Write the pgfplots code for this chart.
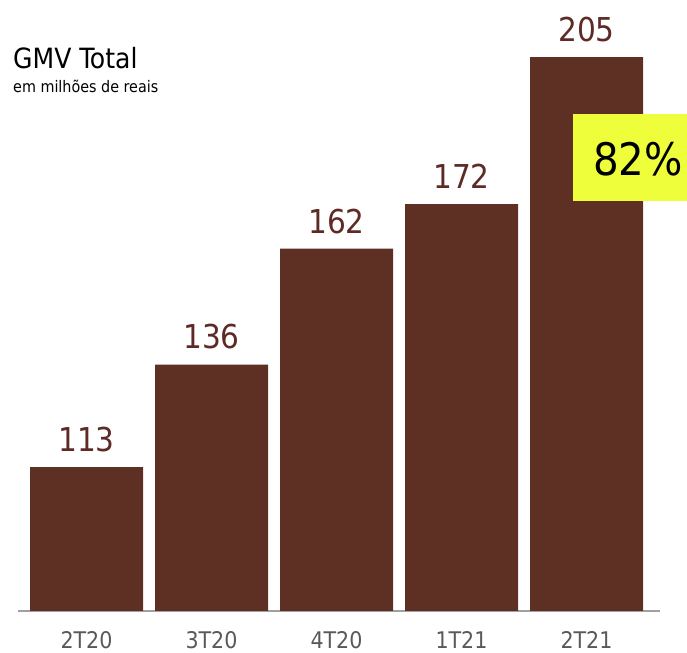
\documentclass[border=0pt]{standalone}
\usepackage{fontspec}
\setmainfont{DejaVu Sans Condensed}
\usepackage{pgfplots}
\pgfplotsset{compat=1.18}

\definecolor{barbrown}{RGB}{94,48,36}
\definecolor{lblbrown}{RGB}{94,42,38}
\definecolor{ticktxt}{RGB}{89,89,89}
\definecolor{axisgray}{RGB}{160,160,160}
\definecolor{hilite}{RGB}{238,254,58}

\begin{document}
\begin{tikzpicture}[x=1bp,y=1bp]
\begin{axis}[
    scale only axis,
    width=642bp, height=611bp,
    ybar, bar width=113bp,
    xmin=-0.548, xmax=4.588,
    ymin=80.7, ymax=217.8,
    axis x line=bottom, axis y line=none,
    axis line style={-, draw=axisgray, line width=2bp},
    xtick=data,
    xticklabels={2T20,3T20,4T20,1T21,2T21},
    xtick style={draw=none}, major tick length=0pt,
    xticklabel style={font=\fontsize{23}{23}\selectfont, text=ticktxt, anchor=base, yshift=-37bp},
    /pgf/number format/assume math mode=true,
    nodes near coords,
    every node near coord/.append style={font=\fontsize{33}{33}\selectfont, text=lblbrown, anchor=south, inner sep=0pt, yshift=15bp},
    clip=false,
]
\addplot[fill=barbrown, draw=none] coordinates {(0,113) (1,136) (2,162) (3,172) (4,205)};
\end{axis}
% title
\node[anchor=base west, inner sep=0pt, font=\fontsize{28}{28}\selectfont] at (-5,542) {GMV Total};
\node[anchor=base west, inner sep=0pt, font=\fontsize{16}{16}\selectfont] at (-5,518) {em milhões de reais};
% growth box
\fill[hilite] (555,410) rectangle (669,497);
\node[anchor=base west, inner sep=0pt, font=\fontsize{45}{45}\selectfont] at (575,435) {82\%};
% page frame
\path (-18,-42) rectangle (669,611);
\end{tikzpicture}
\end{document}
